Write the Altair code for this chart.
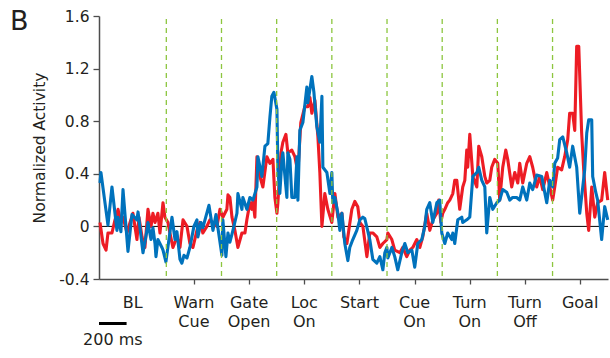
import altair as alt
import pandas as pd

# Time axis: concatenated event windows in ms (baseline window, then 400 ms per event)
red_t = [7, 29, 51, 65, 94, 116, 138, 159, 174, 203, 225, 246, 275, 290, 312, 333, 355, 377, 391, 406,
         427, 442, 464, 478, 500, 514, 536, 565, 587, 609, 638, 659, 681, 710, 732, 753, 782, 804, 826, 855,
         877, 898, 927, 935, 949, 964, 985, 1007, 1036, 1058, 1072, 1094, 1108, 1116, 1130, 1145, 1166, 1188,
         1217, 1239, 1261, 1275, 1290, 1297, 1319, 1333, 1355, 1369, 1398, 1420, 1442, 1463, 1492, 1514, 1529,
         1543, 1565, 1587, 1601, 1616, 1637, 1659, 1688, 1710, 1732, 1761, 1775, 1797, 1811, 1833, 1855, 1876,
         1891, 1913, 1942, 1963, 1985, 2014, 2036, 2058, 2087, 2094, 2123, 2144, 2181, 2202, 2231, 2253, 2275,
         2304, 2326, 2347, 2376, 2398, 2420, 2449, 2463, 2478, 2492, 2507, 2528, 2543, 2565, 2579, 2594, 2615,
         2637, 2652, 2666, 2673, 2688, 2710, 2739, 2753, 2775, 2797, 2811, 2833, 2847, 2869, 2891, 2905, 2927,
         2949, 2963, 2992, 3014, 3036, 3050, 3072, 3101, 3123, 3144, 3173, 3195, 3217, 3246, 3268, 3289, 3304,
         3325, 3354, 3376, 3398, 3412, 3434, 3449, 3463, 3478, 3499, 3514, 3536, 3550, 3572, 3594, 3615, 3644,
         3666, 3688]
red_v = [0.03, -0.13, -0.18, -0.05, -0.05, 0.05, 0.13, 0.03, 0.07, -0.05, 0.03, 0.10, -0.10, 0.07, -0.08,
         -0.16, 0.13, 0.00, 0.10, 0.03, 0.10, -0.05, 0.18, 0.07, 0.03, -0.05, -0.16, -0.08, -0.16, 0.05, 0.00,
         -0.13, -0.16, -0.03, 0.03, -0.05, 0.00, 0.05, 0.03, 0.00, 0.13, 0.07, 0.13, 0.24, 0.22, 0.07, -0.03,
         -0.16, -0.05, -0.05, 0.05, 0.18, 0.13, 0.20, 0.07, 0.53, 0.38, 0.30, 0.53, 0.48, 0.51, 0.22, 0.10, 0.18,
         0.56, 0.64, 0.70, 0.56, 0.58, 0.53, 0.41, 0.79, 0.91, 0.91, 0.98, 0.86, 0.96, 0.68, 0.41, 0.00, 0.25,
         0.13, 0.03, 0.25, 0.07, 0.10, -0.08, -0.13, -0.03, 0.13, 0.19, 0.15, 0.03, 0.00, -0.23, -0.05, -0.05,
         -0.08, -0.16, -0.13, -0.10, -0.05, -0.10, -0.18, -0.20, -0.16, -0.23, -0.18, -0.16, -0.10, -0.16, -0.08,
         0.10, -0.03, 0.05, 0.10, 0.20, 0.03, 0.10, 0.13, 0.18, 0.20, 0.25, 0.35, 0.35, 0.13, 0.30, 0.35, 0.58,
         0.45, 0.70, 0.38, 0.30, 0.61, 0.53, 0.38, 0.33, 0.35, 0.45, 0.51, 0.48, 0.20, 0.45, 0.58, 0.51, 0.30,
         0.41, 0.33, 0.48, 0.33, 0.48, 0.53, 0.45, 0.30, 0.38, 0.28, 0.41, 0.30, 0.20, 0.30, 0.45, 0.43, 0.53,
         0.66, 0.86, 0.86, 0.73, 1.37, 1.37, 0.71, 0.43, 0.10, -0.03, 0.30, 0.07, 0.18, 0.20, 0.41, 0.20]

blue_t = [7, 14, 65, 94, 130, 138, 159, 174, 210, 239, 275, 283, 319, 348, 355, 377, 391, 406, 413, 427,
          456, 464, 485, 529, 551, 565, 587, 601, 616, 638, 659, 688, 710, 717, 739, 753, 797, 826, 848, 891,
          898, 920, 935, 949, 971, 1000, 1007, 1036, 1043, 1072, 1094, 1116, 1145, 1152, 1181, 1203, 1224, 1239,
          1253, 1268, 1290, 1297, 1311, 1326, 1333, 1348, 1362, 1369, 1384, 1398, 1420, 1435, 1442, 1456, 1478,
          1507, 1514, 1536, 1543, 1558, 1579, 1601, 1616, 1623, 1652, 1674, 1688, 1695, 1710, 1732, 1746, 1761,
          1782, 1804, 1818, 1840, 1869, 1891, 1913, 1927, 1963, 1985, 2014, 2036, 2058, 2072, 2087, 2094, 2123,
          2144, 2166, 2195, 2217, 2239, 2268, 2289, 2311, 2340, 2362, 2376, 2398, 2420, 2449, 2470, 2485, 2507,
          2528, 2557, 2565, 2579, 2601, 2630, 2637, 2666, 2688, 2710, 2739, 2753, 2775, 2797, 2811, 2833, 2855,
          2884, 2905, 2927, 2956, 2978, 2999, 3028, 3050, 3072, 3101, 3123, 3144, 3173, 3210, 3231, 3246, 3268,
          3289, 3304, 3325, 3340, 3362, 3391, 3412, 3434, 3463, 3485, 3507, 3521, 3536, 3550, 3572, 3579, 3601,
          3615, 3644, 3666, 3688]
blue_v = [0.33, 0.41, 0.01, 0.30, -0.03, 0.07, -0.04, 0.28, -0.19, 0.09, 0.05, 0.11, -0.20, -0.03, 0.03,
          -0.10, -0.01, -0.13, -0.23, -0.10, -0.16, -0.18, -0.27, 0.07, -0.10, -0.04, -0.25, -0.28, -0.22, -0.24,
          -0.16, 0.00, 0.05, -0.08, 0.03, -0.01, 0.16, -0.03, 0.09, -0.22, 0.05, -0.23, -0.05, -0.12, -0.03, 0.10,
          0.25, 0.13, 0.22, 0.13, 0.22, 0.20, 0.30, 0.53, 0.38, 0.61, 0.63, 0.83, 0.99, 1.02, 0.89, 0.43, 0.25,
          0.51, 0.56, 0.38, 0.22, 0.56, 0.51, 0.22, 0.22, 0.53, 0.20, 0.73, 0.79, 1.06, 0.94, 1.09, 1.14, 1.02,
          0.76, 0.64, 0.99, 0.45, 0.41, 0.25, 0.41, 0.18, 0.22, 0.10, -0.03, 0.10, -0.13, -0.26, -0.16, -0.10,
          -0.03, 0.05, 0.07, 0.06, -0.10, -0.25, -0.28, -0.23, -0.33, -0.20, -0.16, -0.24, -0.16, -0.23, -0.33,
          -0.20, -0.13, -0.20, -0.18, -0.31, -0.13, -0.10, 0.00, 0.13, 0.18, 0.03, 0.18, 0.20, -0.05, -0.13,
          -0.05, -0.10, -0.05, -0.13, 0.05, 0.07, 0.03, 0.05, 0.07, 0.38, 0.41, 0.45, 0.35, 0.30, -0.05, 0.22,
          0.13, 0.18, 0.20, 0.28, 0.26, 0.20, 0.22, 0.22, 0.20, 0.30, 0.20, 0.33, 0.28, 0.39, 0.38, 0.26, 0.18,
          0.35, 0.30, 0.48, 0.52, 0.66, 0.68, 0.56, 0.45, 0.61, 0.45, 0.10, 0.30, 0.43, 0.71, 0.81, 0.81, 0.38,
          0.26, 0.20, -0.10, 0.15, 0.05]

event_labels = ["BL", "Warn\nCue", "Gate\nOpen", "Loc\nOn", "Start", "Cue\nOn", "Turn\nOn", "Turn\nOff", "Goal"]
event_centers = [244, 688, 1088, 1488, 1888, 2288, 2688, 3088, 3488]
window_edges = [488, 888, 1288, 1688, 2088, 2488, 2888, 3288]
y_ticks = [-0.4, 0, 0.4, 0.8, 1.2, 1.6]
time_span = [0, 3690]
scale_bar_ms = [0, 200]

FONT = "DejaVu Sans"
TXT = "#231f20"
AXIS_C = "#4d4d4d"
RED = "#ed1c24"
BLUE = "#0072bc"
GREEN = "#8dc63f"

W, H = 509, 263

xscale = alt.Scale(domain=time_span, nice=False, zero=False)
yscale = alt.Scale(domain=[-0.4, 1.6], nice=False, zero=False)

xaxis = alt.Axis(values=event_centers[1:], labels=False, ticks=True, tickSize=5, tickWidth=1.3,
                 tickColor=AXIS_C, domainColor=AXIS_C, domainWidth=1.5, grid=False, title=None)
yaxis = alt.Axis(values=y_ticks, tickSize=6, tickWidth=1.3, tickColor=AXIS_C, domainColor=AXIS_C,
                 domainWidth=1.5, grid=False, labelFont=FONT, labelFontSize=15.5, labelColor=TXT,
                 labelPadding=4,
                 labelExpr="datum.value == 0 ? '0' : (datum.value < 0 ? '-' : '') + format(abs(datum.value), '.1f')",
                 title="Normalized Activity", titleFont=FONT, titleFontSize=15.5, titleFontWeight="normal",
                 titleColor=TXT, titlePadding=11)

X = lambda f: alt.X(f, type="quantitative", scale=xscale, axis=xaxis)
Y = lambda f: alt.Y(f, type="quantitative", scale=yscale, axis=yaxis)

red_df = pd.DataFrame({"t": red_t, "v": red_v})
blue_df = pd.DataFrame({"t": blue_t, "v": blue_v})

zero = alt.Chart(pd.DataFrame({"v": [0]})).mark_rule(color="black", strokeWidth=1).encode(y=Y("v"))

red_line = alt.Chart(red_df).mark_line(color=RED, strokeWidth=3.1, strokeJoin="round").encode(x=X("t"), y=Y("v"))
blue_line = alt.Chart(blue_df).mark_line(color=BLUE, strokeWidth=3.1, strokeJoin="round").encode(x=X("t"), y=Y("v"))

edges = alt.Chart(pd.DataFrame({"t": window_edges})).mark_rule(
    color=GREEN, strokeWidth=1.3, strokeDash=[5, 4]
).encode(x=X("t"), y=alt.value(3), y2=alt.value(H))

labels = alt.Chart(pd.DataFrame({"t": event_centers, "label": event_labels})).mark_text(
    font=FONT, fontSize=16, color=TXT, lineBreak="\n", lineHeight=18.5, baseline="alphabetic", align="center"
).encode(x=X("t"), y=alt.value(292), text="label:N")

bar = alt.Chart(pd.DataFrame({"t0": [scale_bar_ms[0]], "t1": [scale_bar_ms[1]]})).mark_rule(
    color="black", strokeWidth=3
).encode(x=X("t0"), x2="t1:Q", y=alt.value(307.5))

bar_text = alt.Chart(pd.DataFrame({"t": [sum(scale_bar_ms) / 2], "label": ["200 ms"]})).mark_text(
    font=FONT, fontSize=16, color=TXT, baseline="alphabetic", align="center"
).encode(x=X("t"), y=alt.value(329), text="label:N")

panel = alt.Chart(pd.DataFrame({"label": ["B"]})).mark_text(
    font=FONT, fontSize=27, color=TXT, baseline="alphabetic", align="left"
).encode(x=alt.value(-89), y=alt.value(14), text="label:N")

chart = alt.layer(zero, red_line, blue_line, edges, labels, bar, bar_text, panel).properties(
    width=W, height=H,
    autosize=alt.AutoSizeParams(type="none"),
    padding={"left": 99, "top": 16, "right": 2, "bottom": 79},
    background="white",
).configure_view(stroke=None)

chart.save("out.html", embed_options={"renderer": "svg", "actions": False})
